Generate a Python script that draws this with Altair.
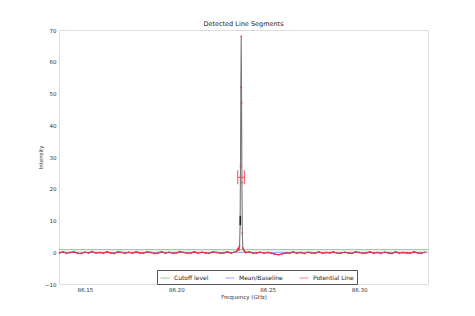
import altair as alt
import pandas as pd

# ---- data ----
left_start, step = 86.136, 0.002
left_vals = [-0.2, 0.1, -0.3, -0.1, 0.1, -0.3, -0.4, 0.0, -0.2, 0.2, -0.3, -0.1, -0.3, 0.1,
             -0.2, -0.4, 0.1, -0.1, -0.3, 0.0, -0.3, 0.1, -0.2, -0.3, 0.1, -0.1, -0.4, -0.2,
             0.1, -0.3, 0.0, -0.3, -0.2, 0.2, -0.1, -0.3, -0.2, 0.1, -0.3, 0.0, -0.2, -0.3,
             0.1, -0.1, -0.3, -0.2, 0.1, -0.3]
peak_freq = [86.2330, 86.2338, 86.2342, 86.2346, 86.2349, 86.2351, 86.2353, 86.2355,
             86.2357, 86.2359, 86.2361, 86.2364, 86.2368, 86.2374, 86.2380]
peak_vals = [0.3, 1.2, 0.8, 2.0, 9.0, 27.0, 52.0, 68.0, 47.0, 22.0, 6.0, 1.3, 0.9, 0.2, -0.1]
right_start = 86.240
right_vals = [0.1, -0.3, -0.2, 0.0, -0.3, -0.1, -0.3, -0.6, -0.8, -0.5, -0.2, -0.3, 0.1,
              -0.3, -0.1, -0.4, 0.0, -0.2, -0.3, 0.1, -0.3, -0.1, -0.2, 0.1, -0.3, -0.3,
              0.0, -0.2, -0.4, 0.1, -0.1, -0.3, -0.2, 0.1, -0.3, -0.1, -0.3, 0.0, -0.2,
              -0.4, 0.1, -0.3, -0.1, -0.2, -0.3, 0.1, -0.2, -0.3, 0.0]

series_names = ["Cutoff level", "Mean/Baseline", "Potential Line"]
series_colors = ["#4daf4a", "#5566ff", "#ff3344"]
level_values = [0.8, 0.0]
x_ticks = [86.15, 86.20, 86.25, 86.30]
y_ticks = [-10, 0, 10, 20, 30, 40, 50, 60, 70]

# error bars seen on the peak
hbar_y, hbar_x1, hbar_x2 = 23.6, 86.2336, 86.2372
vbar_x, vbar_y1, vbar_y2 = 86.2350, 8.5, 11.5

X_DOMAIN = [86.1358, 86.3377]
Y_DOMAIN = [-10, 70]

left_freq = [left_start + i * step for i in range(len(left_vals))]
right_freq = [right_start + i * step for i in range(len(right_vals))]
freqs = left_freq + peak_freq + right_freq
vals = left_vals + peak_vals + right_vals
spec = pd.DataFrame({"freq": freqs, "inten": vals})

red = pd.DataFrame({
    "freq": left_freq + peak_freq[:4] + peak_freq[-4:] + right_freq,
    "inten": left_vals + peak_vals[:4] + peak_vals[-4:] + right_vals,
    "seg": ["a"] * (len(left_vals) + 4) + ["b"] * (4 + len(right_vals)),
})

levels = pd.DataFrame({"series": series_names[:2], "y": level_values})

xs = alt.Scale(domain=X_DOMAIN, nice=False, zero=False)
ys = alt.Scale(domain=Y_DOMAIN, nice=False, zero=False)

xaxis = alt.Axis(title="Frequency (GHz)", values=x_ticks, format=".2f",
                 grid=False, ticks=False, labelFontSize=5.5, titleFontSize=5.5,
                 titleFontWeight="normal", labelPadding=3, titlePadding=2, domain=False,
                 labelColor="#333", titleColor="#333", labelOverlap=False)
yaxis = alt.Axis(title="Intensity", values=y_ticks, grid=False, ticks=False,
                 labelFontSize=5.5, titleFontSize=5.5, titleFontWeight="normal",
                 labelPadding=3, titlePadding=1, domain=False, labelColor="#333",
                 titleColor="#333", labelOverlap=False)


def X(field):
    return alt.X(field, scale=xs, axis=xaxis)


def Y(field):
    return alt.Y(field, scale=ys, axis=yaxis)


rules = alt.Chart(levels).mark_rule(strokeWidth=1, opacity=0.7).encode(
    y=Y("y:Q"),
    color=alt.Color("series:N",
                    scale=alt.Scale(domain=series_names, range=series_colors),
                    legend=alt.Legend(title=None, orient="none", legendX=98, legendY=240,
                                      direction="horizontal", symbolType="stroke",
                                      symbolSize=80, symbolStrokeWidth=1,
                                      labelFontSize=6, labelColor="#222",
                                      strokeColor="#555", fillColor="white",
                                      padding=3, columnPadding=14, labelLimit=120,
                                      symbolOpacity=0.6)),
)

base_line = alt.Chart(spec).mark_line(color="#777", strokeWidth=1.1).encode(
    x=X("freq:Q"), y=Y("inten:Q"))

red_line = alt.Chart(red).mark_line(color="#ff2233", strokeWidth=1.1, opacity=0.75).encode(
    x=X("freq:Q"), y=Y("inten:Q"), detail="seg:N")
red_pts = alt.Chart(spec).mark_point(color="#ff2233", size=4, filled=True, opacity=0.6).encode(
    x=X("freq:Q"), y=Y("inten:Q"))

hbar = pd.DataFrame({"x1": [hbar_x1], "x2": [hbar_x2], "y": [hbar_y]})
hb = alt.Chart(hbar).mark_rule(color="#ff4455", strokeWidth=1).encode(
    x=X("x1:Q"), x2="x2:Q", y=Y("y:Q"))
caps = pd.DataFrame({"x": [hbar_x1, hbar_x2], "y1": [hbar_y - 2.2] * 2, "y2": [hbar_y + 2.2] * 2})
cp = alt.Chart(caps).mark_rule(color="#ff4455", strokeWidth=1).encode(
    x=X("x:Q"), y=Y("y1:Q"), y2="y2:Q")
vbar = pd.DataFrame({"x": [vbar_x], "y1": [vbar_y1], "y2": [vbar_y2]})
vb = alt.Chart(vbar).mark_rule(color="#222", strokeWidth=1.5).encode(
    x=X("x:Q"), y=Y("y1:Q"), y2="y2:Q")

chart = alt.layer(base_line, rules, red_line, red_pts, hb, cp, vb).properties(
    width=369, height=254,
    title=alt.TitleParams("Detected Line Segments", fontSize=6.5, fontWeight="normal",
                          color="#222", offset=1),
    autosize=alt.AutoSizeParams(type="none"),
    padding={"left": 59, "top": 30, "right": 47, "bottom": 32},
).configure_view(stroke="#666", strokeWidth=1.2).configure(font="DejaVu Sans")

chart.save("out.html", embed_options={"renderer": "svg", "actions": False})
